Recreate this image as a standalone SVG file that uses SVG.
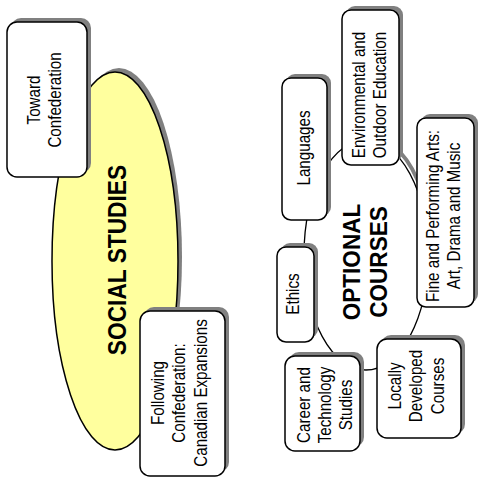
<svg xmlns="http://www.w3.org/2000/svg" width="482" height="487" viewBox="0 0 482 487">
<style>
.bg{fill:#ffffff}
.sh{fill:#808080;stroke:none}
.box{fill:#ffffff;stroke:#000000;stroke-width:1.5}
.hub{fill:#ffff9e;stroke:#000000;stroke-width:1.5}
.ln{fill:none;stroke:#000000;stroke-width:1.3}
.lnsh{fill:none;stroke:#808080;stroke-width:4}
.t{font-family:"Liberation Sans",Arial,sans-serif;font-size:18.5px;fill:#000000;text-anchor:middle}
.b{font-family:"Liberation Sans",Arial,sans-serif;font-weight:bold;fill:#000000;text-anchor:middle}
</style>
<rect class="bg" x="0" y="0" width="482" height="487"/>
<g id="connectors">
<path class="lnsh" d="M 400 152 A 62 115 0 0 1 422 192"/>
<ellipse class="ln" cx="366" cy="255" rx="62" ry="115"/>
</g>
<g id="social-studies">
<ellipse class="sh" cx="119" cy="257" rx="63" ry="189"/>
<ellipse class="hub" cx="115" cy="261" rx="63" ry="189"/>
<text class="b" font-size="25" transform="translate(126,260) rotate(-90) scale(0.91,1)">SOCIAL STUDIES</text>
</g>
<g id="toward-confederation">
<rect class="sh" x="11" y="18" width="80" height="155" rx="10"/>
<rect class="box" x="7" y="22" width="80" height="155" rx="10"/>
<text class="t" transform="translate(39.5,100) rotate(-90) scale(0.82,1)"><tspan x="0" dy="0">Toward</tspan><tspan x="0" dy="22">Confederation</tspan></text>
</g>
<g id="following-confederation">
<rect class="sh" x="144" y="307" width="85" height="165" rx="10"/>
<rect class="box" x="140" y="311" width="85" height="165" rx="10"/>
<text class="t" transform="translate(163.5,393) rotate(-90) scale(0.82,1)"><tspan x="0" dy="0">Following</tspan><tspan x="0" dy="22">Confederation:</tspan><tspan x="0" dy="22">Canadian Expansions</tspan></text>
</g>
<g id="optional-courses">
<text class="b" font-size="24" transform="translate(360,262) rotate(-90) scale(0.94,1)"><tspan x="0" dy="0">OPTIONAL</tspan><tspan x="0" dy="27">COURSES</tspan></text>
</g>
<g id="languages">
<rect class="sh" x="286" y="74" width="45" height="142" rx="9"/>
<rect class="box" x="282" y="78" width="45" height="142" rx="9"/>
<text class="t" transform="translate(309.5,148) rotate(-90) scale(0.82,1)">Languages</text>
</g>
<g id="environmental">
<rect class="sh" x="346" y="6" width="57" height="155" rx="9"/>
<rect class="box" x="342" y="10" width="57" height="155" rx="9"/>
<text class="t" transform="translate(364.5,95) rotate(-90) scale(0.82,1)"><tspan x="0" dy="0">Environmental and</tspan><tspan x="0" dy="22">Outdoor Education</tspan></text>
</g>
<g id="fine-arts">
<rect class="sh" x="421" y="114" width="57" height="189" rx="9"/>
<rect class="box" x="417" y="118" width="57" height="189" rx="9"/>
<text class="t" transform="translate(438.5,216) rotate(-90) scale(0.82,1)"><tspan x="0" dy="0">Fine and Performing Arts:</tspan><tspan x="0" dy="22">Art, Drama and Music</tspan></text>
</g>
<g id="ethics">
<rect class="sh" x="281" y="243" width="37" height="95" rx="9"/>
<rect class="box" x="277" y="247" width="37" height="95" rx="9"/>
<text class="t" transform="translate(298.5,294) rotate(-90) scale(0.82,1)">Ethics</text>
</g>
<g id="career">
<rect class="sh" x="289" y="352" width="75" height="95" rx="10"/>
<rect class="box" x="285" y="356" width="75" height="95" rx="10"/>
<text class="t" transform="translate(309.5,405) rotate(-90) scale(0.82,1)"><tspan x="0" dy="0">Career and</tspan><tspan x="0" dy="21.5">Technology</tspan><tspan x="0" dy="21.5">Studies</tspan></text>
</g>
<g id="locally">
<rect class="sh" x="381" y="335" width="84" height="99" rx="10"/>
<rect class="box" x="377" y="339" width="84" height="99" rx="10"/>
<text class="t" transform="translate(401,386) rotate(-90) scale(0.82,1)"><tspan x="0" dy="0">Locally</tspan><tspan x="0" dy="21.5">Developed</tspan><tspan x="0" dy="21.5">Courses</tspan></text>
</g>
</svg>
